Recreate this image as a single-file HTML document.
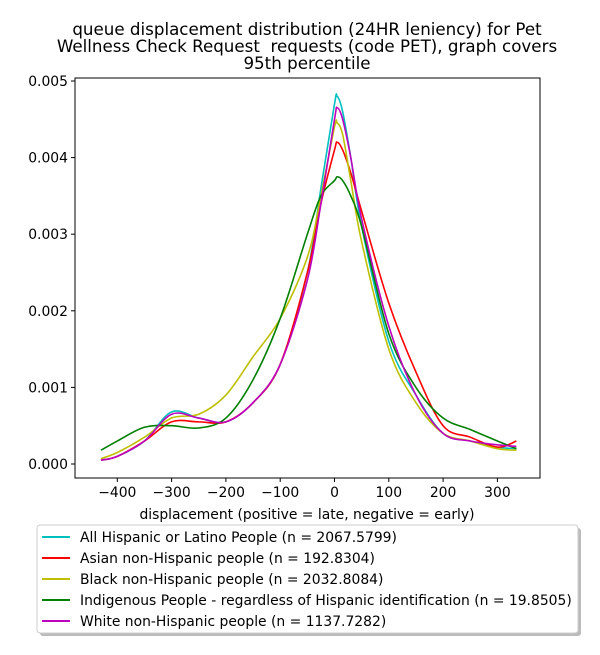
<!DOCTYPE html>
<html><head><meta charset="utf-8"><style>
body{margin:0;background:#fff;font-family:"Liberation Sans",sans-serif}
svg text{font-family:"DejaVu Sans","Liberation Sans",sans-serif;white-space:pre}
</style></head><body>
<svg id="c" width="600" height="650">
<text x="307" y="35" text-anchor="middle" font-size="16.7">queue displacement distribution (24HR leniency) for Pet</text>
<text x="307" y="52" text-anchor="middle" font-size="16.7">Wellness Check Request  requests (code PET), graph covers</text>
<text x="307" y="69" text-anchor="middle" font-size="16.7">95th percentile</text>
<rect x="75" y="78" width="465" height="400" fill="none" stroke="#000" stroke-width="1"/>
<g id="ticks"></g><g id="lines"></g>
<text x="307" y="519" text-anchor="middle" font-size="13.9">displacement (positive = late, negative = early)</text>
<g id="legend">
<rect x="40" y="528" width="541" height="108" rx="3" fill="#bbb"/>
<rect x="37" y="525" width="541" height="108" rx="3" fill="#fff" stroke="#ccc"/>
</g>
</svg>
<script>
const xs=[-430,-400,-350,-300,-250,-200,-150,-100,-50,-25,0,5,15,30,50,100,150,200,250,300,335];
const hisp=[0.00005,0.0001,0.0003,0.00068,0.0006,0.00055,0.0008,0.0013,0.0025,0.0036,0.0047,0.0048,0.0046,0.0040,0.0031,0.0016,0.0009,0.0004,0.0003,0.00022,0.0002];
const asian=[0.00005,0.0001,0.0003,0.00055,0.00055,0.00055,0.0008,0.0013,0.0025,0.0034,0.0041,0.0042,0.0041,0.0038,0.0033,0.0021,0.0012,0.0005,0.00035,0.00022,0.0003];
const black=[0.00007,0.00015,0.00035,0.0006,0.00065,0.0009,0.0014,0.0019,0.0027,0.0035,0.0044,0.00445,0.0043,0.0037,0.0029,0.0015,0.0008,0.0004,0.0003,0.0002,0.00018];
const indig=[0.00018,0.0003,0.00048,0.0005,0.00047,0.0006,0.0011,0.0019,0.003,0.0035,0.0037,0.00375,0.0037,0.0035,0.0031,0.0017,0.001,0.0006,0.00045,0.0003,0.0002];
const white=[0.00005,0.0001,0.0003,0.00065,0.0006,0.00055,0.0008,0.0013,0.0024,0.0034,0.0045,0.00465,0.0045,0.0040,0.0032,0.0018,0.0009,0.0004,0.0003,0.00025,0.00023];
const series=[[hisp,"#00bfbf","All Hispanic or Latino People (n = 2067.5799)"],[asian,"#ff0000","Asian non-Hispanic people (n = 192.8304)"],[black,"#bfbf00","Black non-Hispanic people (n = 2032.8084)"],[indig,"#008000","Indigenous People - regardless of Hispanic identification (n = 19.8505)"],[white,"#bf00bf","White non-Hispanic people (n = 1137.7282)"]];
const xTicks=[-400,-300,-200,-100,0,100,200,300];
const yTicks=[0,0.001,0.002,0.003,0.004,0.005];
const X=v=>334.5+v*0.543, Y=v=>464-v*76600;
const NS="http://www.w3.org/2000/svg";
function mk(t,a,p){const e=document.createElementNS(NS,t);for(const k in a)e.setAttribute(k,a[k]);p.appendChild(e);return e;}
const tg=document.getElementById('ticks');
xTicks.forEach(v=>{const l=mk('line',{x1:X(v),x2:X(v),y1:478,y2:482,stroke:'#000'},tg);


const t=mk('text',{x:X(v),y:497,'text-anchor':'middle','font-size':13.9},tg);t.textContent=v<0?'\u2212'+(-v):v;

});
yTicks.forEach(v=>{const l=mk('line',{x1:71,x2:75,y1:Y(v),y2:Y(v),stroke:'#000'},tg);


const t=mk('text',{x:68,y:Y(v)+5,'text-anchor':'end','font-size':13.9},tg);t.textContent=v.toFixed(3);

});
function path(ys){const p=xs.map((x,i)=>[X(x),Y(ys[i])]);let d='M'+p[0][0]+','+p[0][1];
for(let i=0;i<p.length-1;i++){const p0=p[Math.max(0,i-1)],p1=p[i],p2=p[i+1],p3=p[Math.min(p.length-1,i+2)];
const c1=[p1[0]+(p2[0]-p0[0])/6,p1[1]+(p2[1]-p0[1])/6],c2=[p2[0]-(p3[0]-p1[0])/6,p2[1]-(p3[1]-p1[1])/6];
d+=` C${c1[0]},${c1[1]} ${c2[0]},${c2[1]} ${p2[0]},${p2[1]}`;}return d;}
const lg=document.getElementById('lines'),leg=document.getElementById('legend');
series.forEach((s,i)=>{const p=mk('path',{d:path(s[0]),fill:'none',stroke:s[1],'stroke-width':1.6},lg);


const y=537+i*21;const l=mk('line',{x1:42,x2:70,y1:y,y2:y,stroke:s[1],'stroke-width':2},leg);


const t=mk('text',{x:80,y:y+5,'font-size':13.9},leg);t.textContent=s[2];

});
</script>
</body></html>
